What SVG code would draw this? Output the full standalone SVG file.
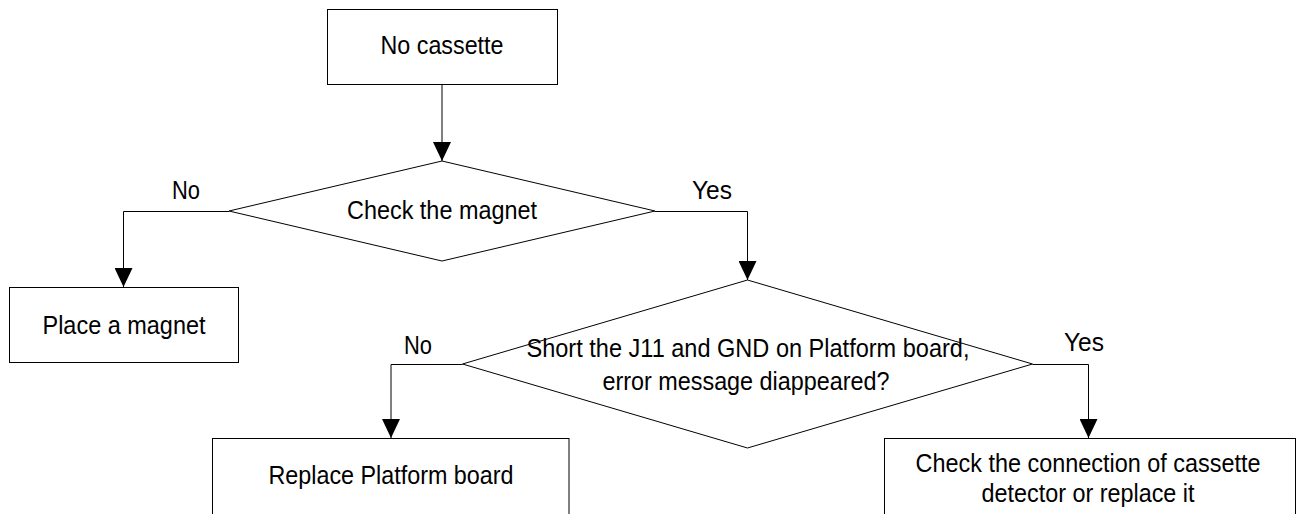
<svg xmlns="http://www.w3.org/2000/svg" width="1297" height="514" viewBox="0 0 1297 514">
<defs>
<style>
.box{fill:#fff;stroke:#000;stroke-width:1}
.dia{fill:#fff;stroke:#000;stroke-width:1}
.con{fill:none;stroke:#000;stroke-width:1}
text{font-family:"Liberation Sans",Arial,sans-serif;font-size:26px;fill:#000;text-anchor:middle}
</style>
<marker id="arr" markerUnits="userSpaceOnUse" markerWidth="19" markerHeight="18" refX="19" refY="9" orient="auto">
<path d="M0,0 L19,9 L0,18 Z" fill="#000"/>
</marker>
</defs>
<rect width="1297" height="514" fill="#fff"/>

<g id="connectors">
<path class="con" d="M442,84.5 V161" marker-end="url(#arr)"/>
<path class="con" d="M229,211.5 H123.5 V287" marker-end="url(#arr)"/>
<path class="con" d="M655,211.5 H747.5 V280" marker-end="url(#arr)"/>
<path class="con" d="M462.5,364.5 H391 V438" marker-end="url(#arr)"/>
<path class="con" d="M1032.5,364.5 H1088.5 V438" marker-end="url(#arr)"/>
<text x="186" y="199" textLength="28" lengthAdjust="spacingAndGlyphs">No</text>
<text x="712" y="199" textLength="40" lengthAdjust="spacingAndGlyphs">Yes</text>
<text x="418" y="354" textLength="28" lengthAdjust="spacingAndGlyphs">No</text>
<text x="1084" y="351" textLength="40" lengthAdjust="spacingAndGlyphs">Yes</text>
</g>

<g id="start">
<rect class="box" x="327.5" y="9.5" width="230" height="75"/>
<text x="442" y="54" textLength="123" lengthAdjust="spacingAndGlyphs">No cassette</text>
</g>

<g id="check-magnet">
<polygon class="dia" points="442,161 655,211 442,261 229,211"/>
<text x="442" y="219" textLength="190" lengthAdjust="spacingAndGlyphs">Check the magnet</text>
</g>

<g id="place-magnet">
<rect class="box" x="9.5" y="287.5" width="229" height="75"/>
<text x="124" y="334" textLength="163" lengthAdjust="spacingAndGlyphs">Place a magnet</text>
</g>

<g id="short-j11">
<polygon class="dia" points="747.5,280 1032.5,364 747.5,448 462.5,364"/>
<text x="748" y="356.5" textLength="443" lengthAdjust="spacingAndGlyphs">Short the J11 and GND on Platform board,</text>
<text x="746" y="390" textLength="287" lengthAdjust="spacingAndGlyphs">error message diappeared?</text>
</g>

<g id="replace-board">
<rect class="box" x="212.5" y="438.5" width="356.5" height="90"/>
<text x="391" y="484" textLength="245" lengthAdjust="spacingAndGlyphs">Replace Platform board</text>
</g>

<g id="check-connection">
<rect class="box" x="884.5" y="438.5" width="411" height="90"/>
<text x="1088" y="471.5" textLength="345" lengthAdjust="spacingAndGlyphs">Check the connection of cassette</text>
<text x="1088" y="501.5" textLength="213" lengthAdjust="spacingAndGlyphs">detector or replace it</text>
</g>
</svg>
